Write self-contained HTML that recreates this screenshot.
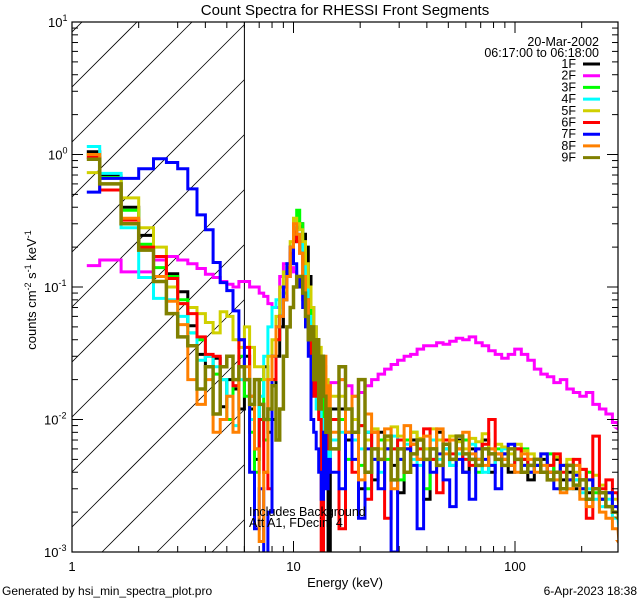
<!DOCTYPE html>
<html><head><meta charset="utf-8">
<style>
html,body{margin:0;background:#fff;width:640px;height:600px;overflow:hidden;}
svg{display:block;font-family:"Liberation Sans",sans-serif;}
</style></head>
<body>
<svg id="chart" width="640" height="600" viewBox="0 0 640 600" xmlns="http://www.w3.org/2000/svg">
<defs><clipPath id="plotclip"><rect x="72" y="22" width="546" height="530"/></clipPath></defs>
<rect width="640" height="600" fill="#fff"/>
<g id="hatch" clip-path="url(#plotclip)"></g>
<line x1="244.4" y1="22" x2="244.4" y2="552" stroke="#000" stroke-width="1"/>
<g id="series" clip-path="url(#plotclip)"></g>
<g id="axes"></g>
<text x="345" y="15" font-size="15" text-anchor="middle">Count Spectra for RHESSI Front Segments</text>
<text x="599" y="46" font-size="12.5" text-anchor="end">20-Mar-2002</text>
<text x="599" y="57" font-size="12.5" text-anchor="end">06:17:00 to 06:18:00</text>
<g id="legend"></g>
<text x="249" y="516" font-size="12.5">Includes Background</text>
<text x="249" y="527" font-size="12.5">Att A1, FDecim 4</text>
<text x="345" y="587" font-size="13" text-anchor="middle">Energy (keV)</text>
<text transform="translate(36,290) rotate(-90)" font-size="13" text-anchor="middle">counts cm<tspan dy="-5" font-size="9">-2</tspan><tspan dy="5"> s</tspan><tspan dy="-5" font-size="9">-1</tspan><tspan dy="5"> keV</tspan><tspan dy="-5" font-size="9">-1</tspan></text>
<text x="2" y="595" font-size="12">Generated by hsi_min_spectra_plot.pro</text>
<text x="637" y="595" font-size="12" text-anchor="end">6-Apr-2023 18:38</text>
</svg>
<script>
const seriesNames = ['1F','2F','3F','4F','5F','6F','7F','8F','9F'];
const seriesColors = ['#000000','#ff00ff','#00ff00','#00ffff','#d0d000','#ff0000','#0000ff','#ff8000','#808000'];
const xTickLabels = ['1','10','100'];
const yTickExps = ['1','0','-1','-2','-3'];

const s1F = [1.05,0.69,0.40,0.245,0.16,0.126,0.092,0.051,0.031,0.025,0.029,0.0125,0.02,0.017,0.012,
0.03,0.012,0.005,0.02,0.025,0.008,0.01,0.03,0.05,0.08,0.12,0.17,0.22,0.28,0.3,0.25,0.2,0.12,0.07,0.05,0.035,0.02,0.03,0.012,0.006,0,0.012,
0.012,0.007,0.01,0.003,0.008,0.0035,0.008,0.006,0.0045,0.0028,0.006,0.007,0.005,0.0025,0.006,0.008,0.006,0.005,0.007,0.004,0.006,0.005,0.007,0.004,0.005,0.0055,0.004,0.006,0.005,0.0035,0.0045,0.005,0.004,0.005,0.0035,0.004,0.003,0.0035,0.0028,0.003,0.0025,0.0022,0.002,0.0018,0.0015];
const s2F = [0.145,0.16,0.13,0.13,0.16,0.17,0.16,0.15,0.138,0.125,0.118,0.11,0.105,0.1,0.11,
0.11,0.1,0.1,0.09,0.085,0.075,0.07,0.07,0.12,0.15,0.15,0.14,0.13,0.12,0.1,0.08,0.06,0.045,0.035,0.028,0.024,0.02,0.018,0.017,0.017,0.018,0.019,
0.02,0.018,0.015,0.016,0.018,0.02,0.022,0.024,0.026,0.028,0.03,0.031,0.034,0.036,0.036,0.038,0.037,0.039,0.041,0.04,0.042,0.038,0.036,0.033,0.031,0.029,0.031,0.034,0.031,0.028,0.024,0.022,0.021,0.019,0.02,0.017,0.016,0.015,0.016,0.013,0.012,0.011,0.0095,0.0085,0.0078];
const s3F = [1.0,0.67,0.38,0.21,0.14,0.12,0.08,0.045,0.04,0.03,0.022,0.02,0.01,0.018,0.03,
0.015,0.008,0.004,0.02,0.007,0.01,0.02,0.04,0.06,0.09,0.13,0.2,0.3,0.38,0.3,0.2,0.12,0.08,0.05,0.03,0.02,0.012,0.02,0.008,0.006,0.01,0.006,
0.01,0.005,0.008,0.0045,0.003,0.006,0.007,0.005,0.006,0.0035,0.007,0.008,0.006,0.003,0.005,0.007,0.0065,0.0045,0.006,0.007,0.005,0.004,0.006,0.0055,0.006,0.005,0.0045,0.005,0.006,0.004,0.0045,0.004,0.0055,0.004,0.003,0.0045,0.0035,0.003,0.004,0.0028,0.0025,0.0028,0.002,0.002,0.0018];
const s4F = [1.15,0.72,0.28,0.118,0.082,0.08,0.06,0.045,0.028,0.03,0.025,0.02,0.015,0.009,0.02,
0.02,0.01,0.006,0.015,0.03,0.05,0.07,0.08,0.06,0.1,0.15,0.2,0.3,0.25,0.22,0.15,0.1,0.06,0.035,0.02,0.012,0.015,0.006,0.01,0.008,0.005,0.007,
0.008,0.012,0.007,0.006,0.008,0.005,0.004,0.006,0.0075,0.005,0.0065,0.005,0.0045,0.006,0.007,0.005,0.006,0.0045,0.0055,0.005,0.0065,0.005,0.004,0.0045,0.005,0.006,0.0045,0.005,0.0045,0.004,0.005,0.004,0.0035,0.004,0.0045,0.003,0.0035,0.0028,0.003,0.0025,0.0022,0.0025,0.0018,0.0015,0.0014];
const s5F = [0.73,0.66,0.47,0.28,0.2,0.1,0.075,0.07,0.063,0.054,0.045,0.065,0.06,0.04,0.035,
0.05,0.035,0.025,0.025,0.02,0.03,0.04,0.06,0.1,0.13,0.14,0.22,0.33,0.3,0.27,0.22,0.15,0.1,0.07,0.05,0.04,0.035,0.03,0.025,0.02,0.018,0.015,
0.015,0.012,0.01,0.009,0.007,0.0085,0.006,0.007,0.0088,0.0075,0.006,0.008,0.0072,0.006,0.0085,0.007,0.0065,0.0075,0.0068,0.006,0.0072,0.0068,0.0078,0.006,0.0065,0.0062,0.0055,0.0065,0.0058,0.0055,0.005,0.0055,0.0045,0.0052,0.0045,0.005,0.004,0.0042,0.0035,0.0038,0.0032,0.0028,0.0025,0.0022,0.002];
const s6F = [0.95,0.54,0.32,0.2,0.17,0.116,0.075,0.063,0.042,0.031,0.03,0.025,0.03,0.018,0.04,
0.035,0.015,0.006,0.01,0.004,0.003,0.02,0.04,0.06,0.1,0.14,0.18,0.26,0.22,0.18,0.12,0.08,0.05,0.03,0.015,0.02,0.01,0,0.008,0.012,0.006,0.01,
0.0015,0.012,0.004,0.009,0.0025,0.008,0.005,0.0018,0.006,0.007,0.004,0.0065,0.006,0.0085,0.005,0.0028,0.007,0.0055,0.006,0.005,0.0045,0.006,0.0065,0.01,0.0055,0.005,0.0045,0.006,0.005,0.0045,0.005,0.004,0.0045,0.0055,0.004,0.0035,0.005,0.0042,0.0018,0.0075,0.003,0.0035,0.0028,0.0022,0.002];
const s7F = [0.52,0.66,0.66,0.78,0.93,0.87,0.78,0.55,0.35,0.27,0.153,0.108,0.094,0.066,0.04,
0.02,0.004,0.0015,0.003,0,0.002,0.03,0.05,0.06,0.1,0.15,0.2,0.15,0.12,0.1,0.07,0.05,0.03,0.01,0.008,0.006,0.004,0.0025,0.008,0.003,0.005,0.004,
0.003,0.008,0.005,0.0018,0.006,0.005,0.003,0.006,0.001,0.005,0.006,0.0045,0.0015,0.005,0.004,0.0055,0.0035,0.0022,0.005,0.004,0.0025,0.006,0.005,0.0045,0.003,0.0055,0.0065,0.005,0.0045,0.004,0.0045,0.0055,0.004,0.003,0.0045,0.0035,0.0038,0.003,0.0035,0.003,0.0025,0.0028,0.0022,0.002,0.0015];
const s8F = [1.0,0.6,0.33,0.19,0.12,0.078,0.052,0.02,0.013,0.02,0.008,0.01,0.015,0.008,0.025,
0.025,0.015,0.006,0.0012,0.004,0.02,0.03,0.05,0.06,0.08,0.12,0.2,0.3,0.25,0.18,0.12,0.08,0.05,0.04,0.03,0.02,0.012,0.02,0.03,0.012,0.018,0.008,
0.02,0.008,0.015,0.0035,0.011,0.008,0.005,0.0085,0.003,0.006,0.009,0.0065,0.005,0.0075,0.006,0.0085,0.0055,0.007,0.006,0.008,0.0055,0.005,0.0045,0.006,0.0055,0.005,0.0045,0.004,0.0055,0.005,0.004,0.0045,0.004,0.0035,0.0028,0.003,0.0045,0.0025,0.0022,0.003,0.002,0.0018,0.0015,0.0012,0.001];
const s9F = [0.92,0.6,0.3,0.19,0.11,0.063,0.042,0.036,0.017,0.025,0.011,0.025,0.03,0.02,0.025,
0.02,0.013,0.02,0.013,0.01,0.012,0.018,0.007,0.012,0.03,0.05,0.07,0.1,0.12,0.12,0.09,0.06,0.04,0.05,0.02,0.04,0.012,0.03,0.015,0.008,0.012,0.006,
0.025,0.012,0.008,0.02,0.004,0.006,0.005,0.0075,0.0035,0.006,0.004,0.0055,0.007,0.005,0.006,0.0045,0.0065,0.005,0.0075,0.0055,0.005,0.0045,0.006,0.0055,0.005,0.0045,0.006,0.005,0.004,0.0045,0.005,0.004,0.0035,0.004,0.003,0.0045,0.0032,0.0035,0.0025,0.003,0.0028,0.0022,0.002,0.0018,0.0016];
const seriesValues = [s1F,s2F,s3F,s4F,s5F,s6F,s7F,s8F,s9F];

const binEdges = [7/6];
for (let i = 1; i <= 41; i++) binEdges.push((i + 3) / 3);
for (let k = 1; k <= 45; k++) binEdges.push(15 * Math.pow(1.07, k));

const L = 72, R = 618, T = 22, B = 552, DX = 221.5, DY = 132.5;
function xScale(e){ return L + DX * Math.log10(e); }
function yScale(v){ return v > 0 ? Math.min(T + DY * (1 - Math.log10(v)), B + 3) : B + 3; }

const NS = 'http://www.w3.org/2000/svg';
function mk(tag, attrs, parent){ const el = document.createElementNS(NS, tag); for (const k in attrs) el.setAttribute(k, attrs[k]); parent.appendChild(el); return el; }

const hatch = document.getElementById('hatch');
for (let c = 104; c <= 796; c += 55) {
  let x1 = 72, y1 = c - 72;
  if (y1 > B) { y1 = B; x1 = c - B; }
  let x2 = c - 22, y2 = 22;
  if (x2 > 244.4) { x2 = 244.4; y2 = c - 244.4; }
  if (x1 >= x2) continue;
  const ln = mk('line', {x1: x1, y1: y1, x2: x2, y2: y2, stroke: '#000', 'stroke-width': 0.8}, hatch);
  
  
}

const sg = document.getElementById('series');
seriesValues.forEach((vals, si) => {
  let d = '';
  for (let i = 0; i < vals.length; i++) {
    const x0 = xScale(binEdges[i]).toFixed(1), x1 = Math.min(xScale(binEdges[i+1]), R).toFixed(1), y = yScale(vals[i]).toFixed(1);
    d += (i === 0 ? 'M' : 'L') + x0 + ',' + y + 'L' + x1 + ',' + y;
  }
  const p = mk('path', {d: d, fill: 'none', stroke: seriesColors[si], 'stroke-width': si === 8 ? 3.5 : 3}, sg);
  
  
});

const ax = document.getElementById('axes');
mk('rect', {x: L, y: T, width: R - L, height: B - T, fill: 'none', stroke: '#000', 'stroke-width': 1.2}, ax);
for (let dec = 0; dec < 3; dec++) {
  for (let m = 1; m <= 9; m++) {
    const x = xScale(m * Math.pow(10, dec));
    if (x > R) break;
    const len = m === 1 ? 11 : 6;
    mk('line', {x1: x, y1: B, x2: x, y2: B - len, stroke: '#000', 'stroke-width': 1}, ax);
    mk('line', {x1: x, y1: T, x2: x, y2: T + len, stroke: '#000', 'stroke-width': 1}, ax);
  }
}
xTickLabels.forEach((lab, i) => {
  const t = mk('text', {x: xScale(Math.pow(10, i)), y: 571, 'font-size': 13, 'text-anchor': 'middle'}, ax);
  t.textContent = lab;
  
  
});
for (let dec = -3; dec < 1; dec++) {
  for (let m = 1; m <= 9; m++) {
    const y = T + DY * (1 - Math.log10(m * Math.pow(10, dec)));
    const len = m === 1 ? 11 : 6;
    mk('line', {x1: L, y1: y, x2: L + len, y2: y, stroke: '#000', 'stroke-width': 1}, ax);
    mk('line', {x1: R, y1: y, x2: R - len, y2: y, stroke: '#000', 'stroke-width': 1}, ax);
  }
}
yTickExps.forEach((ex) => {
  const y = T + DY * (1 - (+ex));
  const t = mk('text', {x: 70 - (ex.length > 1 ? 26 : 22), y: y + 5, 'font-size': 13}, ax);
  
  
  t.appendChild(document.createTextNode('10'));
  const sp = mk('tspan', {dy: -6, 'font-size': 9}, t); sp.textContent = ex;
});

const lg = document.getElementById('legend');
seriesNames.forEach((n, i) => {
  const y = 64 + i * 11.7;
  const t = mk('text', {x: 576, y: y + 4, 'font-size': 12.5, 'text-anchor': 'end'}, lg);
  t.textContent = n;
  
  
  const l = mk('line', {x1: 583, y1: y, x2: 600, y2: y, stroke: seriesColors[i], 'stroke-width': 3}, lg);
  
  
});
</script>
</body></html>
